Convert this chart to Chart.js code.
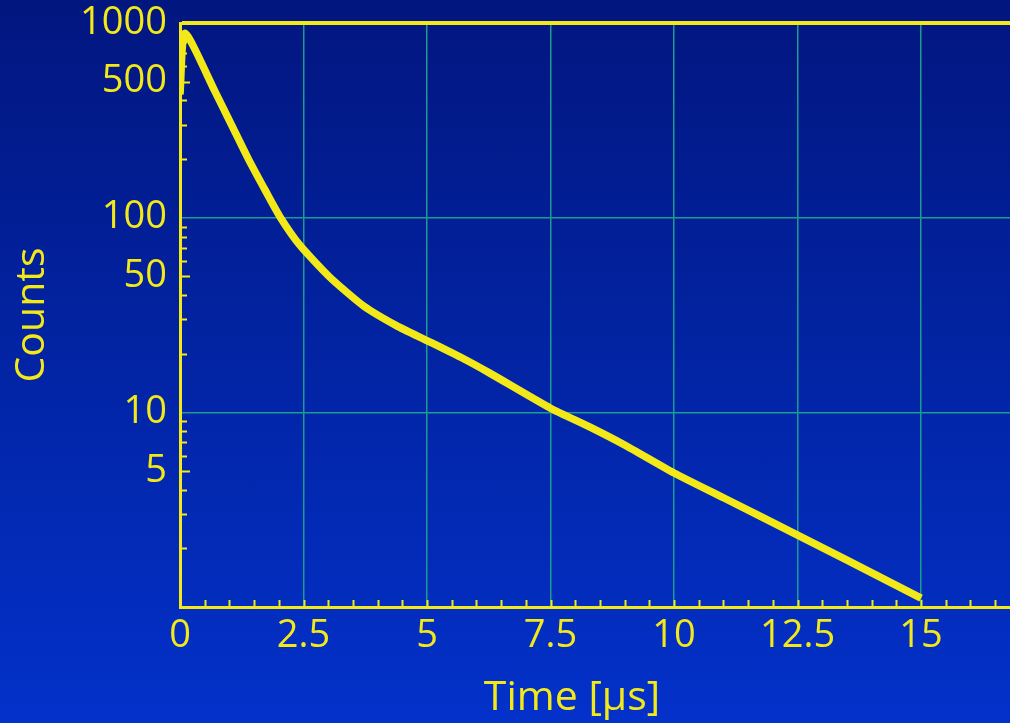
<!DOCTYPE html>
<html>
<head>
<meta charset="utf-8">
<script src="https://cdn.jsdelivr.net/npm/chart.js@4.4.1/dist/chart.umd.min.js"></script>
<style>
  html, body { margin: 0; padding: 0; }
  body { width: 1010px; height: 723px; overflow: hidden;
         background: linear-gradient(180deg, #02167f 0%, #0224a4 50%, #0331ca 100%); }
  canvas { display: block; }
</style>
</head>
<body>
<canvas id="c" width="1010" height="723"></canvas>
<script>
// ---- data ----
const times  = [0, 0.1, 0.71, 1.045, 1.38, 1.74, 2.035, 2.43, 3.03, 3.71, 4.38, 5.01, 5.73, 6.27, 7.5, 8.3, 9.0, 10, 11, 12.5, 13.5, 15];
const counts = [430, 887, 444, 299, 201, 136, 100, 72, 49.5, 35.3, 27.9, 23.3, 18.9, 15.9, 10.5, 8.4, 6.8, 4.88, 3.64, 2.34, 1.74, 1.11];
const xTickValues = [0, 2.5, 5, 7.5, 10, 12.5, 15];
const xTickLabels = ['0', '2.5', '5', '7.5', '10', '12.5', '15'];
const yTickValues = [1, 5, 10, 50, 100, 500, 1000];
const yTickLabels = ['', '5', '10', '50', '100', '500', '1000'];
const xRange = [0, 16.8];
const yRange = [1, 1000];
const xTitle = 'Time [\u00b5s]';
const yTitle = 'Counts';

const YELLOW = '#f4e918';
const TEAL = '#1c9c8e';
const FONT = 'Open Sans';

const points = times.map((t, i) => ({ x: t, y: counts[i] }));

const extras = {
  id: 'extras',
  beforeDatasetsDraw(chart) {
    const ctx = chart.ctx, xs = chart.scales.x, ys = chart.scales.y;
    const area = chart.chartArea;
    ctx.save();
    ctx.strokeStyle = YELLOW;
    ctx.lineWidth = 2;
    for (let v = 0.5; v < xRange[1]; v += 0.5) {
      const px = Math.round(xs.getPixelForValue(v)) + 0.5;
      ctx.beginPath();
      ctx.moveTo(px, area.bottom);
      ctx.lineTo(px, area.bottom - 7);
      ctx.stroke();
    }
    for (let d = 1; d < 1000; d *= 10) {
      for (let m = 2; m <= 9; m++) {
        const py = Math.round(ys.getPixelForValue(m * d)) + 0.5;
        const len = (m === 5) ? 10 : 7;
        ctx.beginPath();
        ctx.moveTo(area.left, py);
        ctx.lineTo(area.left + len, py);
        ctx.stroke();
      }
    }
    ctx.restore();
  },
  afterDraw(chart) {
    const ctx = chart.ctx;
    ctx.save();
    ctx.fillStyle = YELLOW;
    ctx.font = '41px "' + FONT + '"';
    ctx.textAlign = 'center';
    ctx.textBaseline = 'alphabetic';
    ctx.fillText(xTitle, 572, 710);
    ctx.restore();
  }
};

new Chart(document.getElementById('c'), {
  type: 'line',
  data: {
    datasets: [{
      data: points,
      borderColor: YELLOW,
      borderWidth: 7.5,
      pointRadius: 0,
      tension: 0.2,
      borderCapStyle: 'butt',
      borderJoinStyle: 'round',
      fill: false
    }]
  },
  options: {
    responsive: false,
    animation: false,
    layout: { padding: { top: 23, right: 0, left: 0, bottom: 0 } },
    plugins: { legend: { display: false }, tooltip: { enabled: false } },
    scales: {
      x: {
        type: 'linear',
        min: xRange[0], max: xRange[1],
        afterFit(scale) { scale.height = 116; scale.paddingLeft = 0; scale.paddingRight = 0; },
        afterBuildTicks(scale) { scale.ticks = xTickValues.map(v => ({ value: v })); },
        ticks: {
          color: YELLOW,
          font: { family: FONT, size: 38 },
          padding: 6,
          maxRotation: 0,
          autoSkip: false,
          callback(v) { const i = xTickValues.indexOf(v); return i >= 0 ? xTickLabels[i] : ''; }
        },
        grid: {
          drawTicks: false,
          color: ctx => (ctx.tick && ctx.tick.value === 0) ? 'rgba(0,0,0,0)' : TEAL,
          lineWidth: 1.5
        },
        border: { color: YELLOW, width: 3 },
        title: { display: false }
      },
      y: {
        type: 'logarithmic',
        min: yRange[0], max: yRange[1],
        afterFit(scale) { scale.width = 180; scale.paddingTop = 0; scale.paddingBottom = 0; },
        afterBuildTicks(scale) { scale.ticks = yTickValues.map(v => ({ value: v })); },
        ticks: {
          color: YELLOW,
          font: { family: FONT, size: 38 },
          padding: 13,
          autoSkip: false,
          callback(v) { const i = yTickValues.indexOf(v); return i >= 0 ? yTickLabels[i] : ''; }
        },
        grid: {
          drawTicks: false,
          color: ctx => {
            const v = ctx.tick && ctx.tick.value;
            if (v === 1000) return YELLOW;
            if (v === 10 || v === 100) return TEAL;
            return 'rgba(0,0,0,0)';
          },
          lineWidth: ctx => (ctx.tick && ctx.tick.value === 1000) ? 4 : 1.5
        },
        border: { color: YELLOW, width: 3 },
        title: {
          display: true, text: yTitle, color: YELLOW,
          font: { family: FONT, size: 41 },
          padding: { top: 8, bottom: 0 }
        }
      }
    }
  },
  plugins: [extras]
});
</script>
</body>
</html>
